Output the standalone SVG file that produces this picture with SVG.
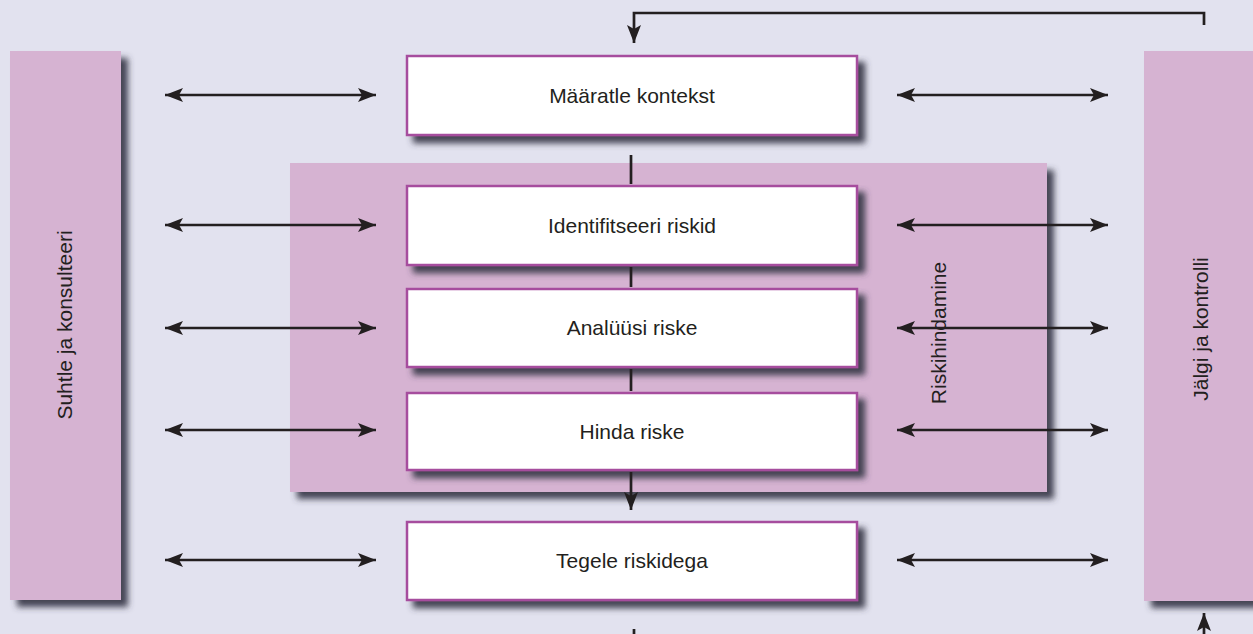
<svg xmlns="http://www.w3.org/2000/svg" width="1253" height="634" viewBox="0 0 1253 634">
<defs>
<filter id="sh" x="-10%" y="-10%" width="130%" height="140%">
<feGaussianBlur in="SourceAlpha" stdDeviation="3"/>
<feOffset dx="7" dy="7" result="b"/>
<feFlood flood-color="#3c3c4c" flood-opacity="0.95"/>
<feComposite in2="b" operator="in" result="s"/>
<feMerge><feMergeNode in="s"/><feMergeNode in="SourceGraphic"/></feMerge>
</filter>
<marker id="ah" viewBox="0 0 18 14" refX="18" refY="7" markerWidth="18" markerHeight="14" markerUnits="userSpaceOnUse" orient="auto-start-reverse">
<path d="M0,0 L18,7 L0,14 L4,7 Z" fill="#231f20"/>
</marker>
<style>
.bar{fill:#d6b3d2}
.box{fill:#ffffff;stroke:#a64e9e;stroke-width:2.5}
.lbl{font-family:"Liberation Sans",Arial,sans-serif;font-size:21px;fill:#231f20;text-anchor:middle}
.ln{fill:none;stroke:#231f20;stroke-width:2.7}
</style>
</defs>
<rect width="1253" height="634" fill="#e2e2ef"/>

<g id="suhtle">
<rect class="bar" x="10" y="51" width="111" height="549" filter="url(#sh)"/>
<text class="lbl" transform="translate(72,325) rotate(-90)">Suhtle ja konsulteeri</text>
</g>
<g id="jalgi">
<rect class="bar" x="1144" y="51" width="120" height="550" filter="url(#sh)"/>
<text class="lbl" transform="translate(1208,329) rotate(-90)">Jälgi ja kontrolli</text>
</g>
<g id="riskihindamine">
<rect class="bar" x="290" y="163" width="757" height="329" filter="url(#sh)"/>
<text class="lbl" transform="translate(946,333) rotate(-90)">Riskihindamine</text>
</g>

<g id="maaratle">
<rect class="box" x="407" y="56" width="450" height="79" filter="url(#sh)"/>
<text class="lbl" x="632" y="103">Määratle kontekst</text>
</g>
<g id="identifitseeri">
<rect class="box" x="407" y="186" width="450" height="79" filter="url(#sh)"/>
<text class="lbl" x="632" y="233">Identifitseeri riskid</text>
</g>
<g id="analuusi">
<rect class="box" x="407" y="289" width="450" height="78" filter="url(#sh)"/>
<text class="lbl" x="632" y="335">Analüüsi riske</text>
</g>
<g id="hinda">
<rect class="box" x="407" y="393" width="450" height="77" filter="url(#sh)"/>
<text class="lbl" x="632" y="439">Hinda riske</text>
</g>
<g id="tegele">
<rect class="box" x="407" y="522" width="450" height="78" filter="url(#sh)"/>
<text class="lbl" x="632" y="568">Tegele riskidega</text>
</g>

<g id="connectors">
<line class="ln" x1="165" y1="95" x2="376" y2="95" marker-start="url(#ah)" marker-end="url(#ah)"/>
<line class="ln" x1="897" y1="95" x2="1108" y2="95" marker-start="url(#ah)" marker-end="url(#ah)"/>
<line class="ln" x1="165" y1="225" x2="376" y2="225" marker-start="url(#ah)" marker-end="url(#ah)"/>
<line class="ln" x1="897" y1="225" x2="1108" y2="225" marker-start="url(#ah)" marker-end="url(#ah)"/>
<line class="ln" x1="165" y1="328" x2="376" y2="328" marker-start="url(#ah)" marker-end="url(#ah)"/>
<line class="ln" x1="897" y1="328" x2="1108" y2="328" marker-start="url(#ah)" marker-end="url(#ah)"/>
<line class="ln" x1="165" y1="430" x2="376" y2="430" marker-start="url(#ah)" marker-end="url(#ah)"/>
<line class="ln" x1="897" y1="430" x2="1108" y2="430" marker-start="url(#ah)" marker-end="url(#ah)"/>
<line class="ln" x1="165" y1="560" x2="376" y2="560" marker-start="url(#ah)" marker-end="url(#ah)"/>
<line class="ln" x1="897" y1="560" x2="1108" y2="560" marker-start="url(#ah)" marker-end="url(#ah)"/>
<path class="ln" d="M1204,25 V13 H634 V43" marker-end="url(#ah)"/>
<line class="ln" x1="631" y1="155" x2="631" y2="184"/>
<line class="ln" x1="631" y1="267" x2="631" y2="287"/>
<line class="ln" x1="631" y1="369" x2="631" y2="391"/>
<line class="ln" x1="631" y1="472" x2="631" y2="510" marker-end="url(#ah)"/>
<line class="ln" x1="634" y1="629" x2="634" y2="634"/>
<line class="ln" x1="1204" y1="634" x2="1204" y2="613" marker-end="url(#ah)"/>
</g>
</svg>
